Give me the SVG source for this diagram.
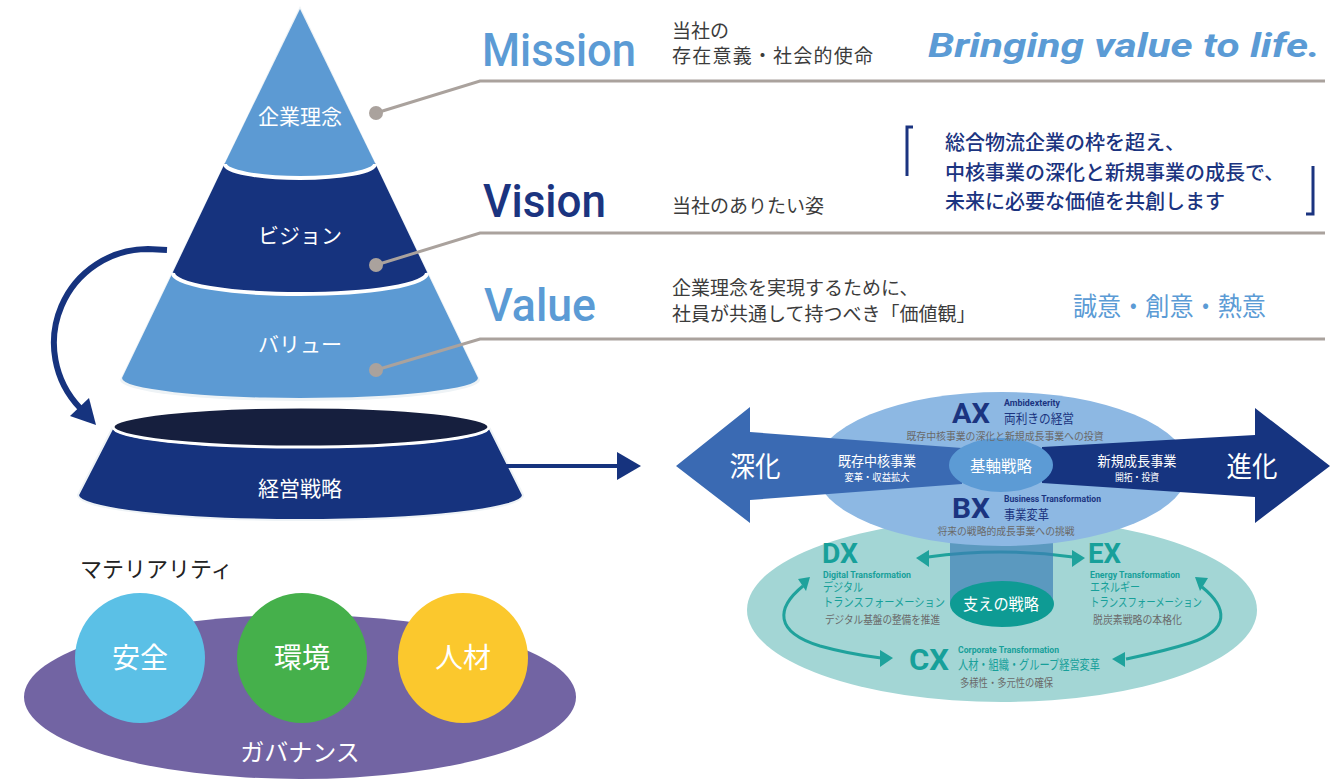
<svg xmlns="http://www.w3.org/2000/svg" width="1337" height="779" viewBox="0 0 1337 779">
<defs>
<style>
.jp{font-family:"Noto Sans CJK JP","Noto Sans",sans-serif;}
.en{font-family:Roboto,"Liberation Sans",sans-serif;}
.w{fill:#ffffff;}
.lbl{font-size:21px;fill:#ffffff;text-anchor:middle;}
.desc{font-size:19px;fill:#3c3c3c;}
.gray{fill:#6a6a6a;}
.navy{fill:#1b3480;}
.teal{fill:#17a09a;}
.lb{fill:#5b9bd5;}
.big{font-weight:700;}
.guide{fill:none;stroke:#aaa29d;stroke-width:3;}
.dot{fill:#aaa29d;}
.tl{fill:none;stroke:#1fa29c;stroke-width:3;}
.th{fill:#1fa29c;}
</style>
</defs>
<rect width="1337" height="779" fill="#ffffff"/>

<!-- pyramid -->
<g id="pyramid">
<path d="M300,6 L480,380 A180,21 0 0 1 120,380 Z" fill="#eef3f6"/>
<path d="M300,9 L375,163 A75,14 0 0 1 225,163 Z" fill="#5c9ad3"/>
<path d="M225,163 A75,14 0 0 0 375,163 L427,272 A127,21 0 0 1 173,272 Z" fill="#16337e"/>
<path d="M173,272 A127,21 0 0 0 427,272 L478,378 A178,20 0 0 1 122,378 Z" fill="#5c9ad3"/>
<path d="M225,164 A75,14 0 0 0 375,164" fill="none" stroke="#ffffff" stroke-width="4"/>
<path d="M173,273 A127,21 0 0 0 427,273" fill="none" stroke="#ffffff" stroke-width="4"/>
</g>
<g id="n-mission-level"><text class="jp lbl" x="300" y="124">企業理念</text></g>
<g id="n-vision-level"><text class="jp lbl" x="300" y="243">ビジョン</text></g>
<g id="n-value-level"><text class="jp lbl" x="300" y="352">バリュー</text></g>

<!-- management strategy frustum -->
<g id="n-strategy">
<path d="M113,427 A188,20 0 0 0 489,427 L523,495 A222,25 0 0 1 78,495 Z" fill="#16337e" stroke="#eef3f6" stroke-width="2"/>
<ellipse cx="301" cy="427" rx="188" ry="20" fill="#161f3e" stroke="#ffffff" stroke-width="3"/>
<text class="jp lbl" x="300" y="496">経営戦略</text>
</g>

<!-- connectors -->
<g id="connectors">
<circle class="dot" cx="376" cy="113" r="7"/>
<circle class="dot" cx="376" cy="265" r="7"/>
<circle class="dot" cx="376" cy="370" r="7"/>
<polyline class="guide" points="376,113 480,81 1325,81"/>
<polyline class="guide" points="376,265 480,233 1325,233"/>
<polyline class="guide" points="376,370 480,339 1325,339"/>
<path d="M167,250 L148,249 A94,94 0 0 0 80,408" fill="none" stroke="#16337e" stroke-width="6"/>
<polygon points="96,425 70,416 89,398" fill="#16337e"/>
<line x1="500" y1="466" x2="622" y2="466" stroke="#16337e" stroke-width="4"/>
<polygon points="617,452 641,466 617,480" fill="#16337e"/>
</g>

<!-- MVV headings -->
<g id="n-mission">
<text class="en lb" x="482" y="66" font-size="46" font-weight="500" textLength="154" lengthAdjust="spacingAndGlyphs">Mission</text>
<text class="jp desc" x="672" y="38">当社の</text>
<text class="jp desc" x="672" y="63" textLength="201" lengthAdjust="spacing">存在意義・社会的使命</text>
<text class="en lb" x="928" y="57" font-size="33" font-weight="700" font-style="italic" textLength="392" lengthAdjust="spacingAndGlyphs">Bringing value to life.</text>
</g>
<g id="n-vision">
<text class="en navy" x="483" y="217" font-size="46" font-weight="500" textLength="123" lengthAdjust="spacingAndGlyphs">Vision</text>
<text class="jp desc" x="672" y="213">当社のありたい姿</text>
<polyline points="913,127 907,127 907,176" fill="none" stroke="#1b3480" stroke-width="3"/>
<polyline points="1306,214 1313,214 1313,166" fill="none" stroke="#1b3480" stroke-width="3"/>
<text class="jp navy" x="945" y="150" font-size="20" font-weight="500">総合物流企業の枠を超え、</text>
<text class="jp navy" x="945" y="180" font-size="20" font-weight="500">中核事業の深化と新規事業の成長で、</text>
<text class="jp navy" x="945" y="209" font-size="20" font-weight="500">未来に必要な価値を共創します</text>
</g>
<g id="n-value">
<text class="en lb" x="484" y="321" font-size="46" font-weight="500" textLength="112" lengthAdjust="spacingAndGlyphs">Value</text>
<text class="jp desc" x="672" y="295">企業理念を実現するために、</text>
<text class="jp desc" x="672" y="321">社員が共通して持つべき「価値観」</text>
<text class="jp lb" x="1073" y="316" font-size="26" textLength="193" lengthAdjust="spacingAndGlyphs">誠意・創意・熱意</text>
</g>

<!-- materiality -->
<g id="n-materiality">
<text class="jp" x="80" y="577" font-size="22" fill="#222222">マテリアリティ</text>
</g>
<g id="n-governance">
<ellipse cx="300" cy="697" rx="276" ry="82" fill="#7264a3"/>
<text class="jp w" x="300" y="761" font-size="24" text-anchor="middle">ガバナンス</text>
</g>
<g id="n-safety">
<circle cx="140" cy="658" r="65" fill="#5bc0e6"/>
<text class="jp w" x="140" y="668" font-size="28" text-anchor="middle">安全</text>
</g>
<g id="n-environment">
<circle cx="302" cy="658" r="65" fill="#45b04b"/>
<text class="jp w" x="302" y="668" font-size="28" text-anchor="middle">環境</text>
</g>
<g id="n-people">
<circle cx="463" cy="658" r="65" fill="#fbc82d"/>
<text class="jp w" x="463" y="668" font-size="28" text-anchor="middle">人材</text>
</g>

<!-- right: supporting strategy -->
<g id="n-support">
<ellipse cx="1002" cy="610" rx="255" ry="92" fill="#a3d6d5"/>
<path class="tl" d="M928,557 Q1000,547 1073,557"/>
<polygon class="th" points="916,558 929,550 929,567"/>
<polygon class="th" points="1085,558 1072,550 1072,567"/>
<path class="tl" d="M803,586 C776,608 774,632 820,646 C845,653 865,656 881,658"/>
<polygon class="th" points="810,577 798,579 806,591"/>
<polygon class="th" points="893,658 880,650 880,667"/>
<path class="tl" d="M1202,587 C1228,608 1230,630 1190,643 C1165,651 1145,655 1126,659"/>
<polygon class="th" points="1195,577 1208,578 1200,591"/>
<polygon class="th" points="1112,659 1125,652 1125,667"/>
<rect x="950" y="515" width="103" height="89" fill="#3c7fb5" fill-opacity="0.7"/>
<ellipse cx="1002" cy="604" rx="52" ry="23" fill="#0e9b94"/>
<text class="jp w" x="1001" y="610" font-size="16" text-anchor="middle" textLength="76" lengthAdjust="spacingAndGlyphs">支えの戦略</text>
</g>
<g id="n-dx">
<text class="en teal big" x="822" y="563" font-size="28" textLength="36" lengthAdjust="spacingAndGlyphs">DX</text>
<text class="en teal big" x="823" y="578" font-size="9" textLength="88" lengthAdjust="spacingAndGlyphs">Digital Transformation</text>
<text class="jp teal" x="823" y="592" font-size="12" textLength="40" lengthAdjust="spacingAndGlyphs">デジタル</text>
<text class="jp teal" x="823" y="607" font-size="12" textLength="122" lengthAdjust="spacingAndGlyphs">トランスフォーメーション</text>
<text class="jp gray" x="825" y="624" font-size="11" textLength="115" lengthAdjust="spacingAndGlyphs">デジタル基盤の整備を推進</text>
</g>
<g id="n-ex">
<text class="en teal big" x="1088" y="563" font-size="28" textLength="33" lengthAdjust="spacingAndGlyphs">EX</text>
<text class="en teal big" x="1090" y="578" font-size="9" textLength="90" lengthAdjust="spacingAndGlyphs">Energy Transformation</text>
<text class="jp teal" x="1090" y="592" font-size="12" textLength="50" lengthAdjust="spacingAndGlyphs">エネルギー</text>
<text class="jp teal" x="1090" y="607" font-size="12" textLength="112" lengthAdjust="spacingAndGlyphs">トランスフォーメーション</text>
<text class="jp gray" x="1093" y="624" font-size="11" textLength="89" lengthAdjust="spacingAndGlyphs">脱炭素戦略の本格化</text>
</g>
<g id="n-cx">
<text class="en teal big" x="909" y="670" font-size="30" textLength="40" lengthAdjust="spacingAndGlyphs">CX</text>
<text class="en teal big" x="958" y="653" font-size="9.5" textLength="101" lengthAdjust="spacingAndGlyphs">Corporate Transformation</text>
<text class="jp teal" x="958" y="669" font-size="13" textLength="142" lengthAdjust="spacingAndGlyphs">人材・組織・グループ経営変革</text>
<text class="jp gray" x="960" y="687" font-size="11" textLength="93" lengthAdjust="spacingAndGlyphs">多様性・多元性の確保</text>
</g>

<!-- right: core strategy -->
<g id="n-core">
<ellipse cx="1002" cy="469" rx="187" ry="77" fill="#8db8e3"/>
<polygon points="676,466 750,407 750,432 962,448 962,484 750,500 750,523" fill="#3a6ab3"/>
<polygon points="1330,466 1255,408 1255,435 1042,447 1042,483 1255,497 1255,523" fill="#163480"/>
<ellipse cx="1001" cy="465" rx="52" ry="27" fill="#5c9bd5"/>
<text class="jp w" x="1001" y="472" font-size="16" text-anchor="middle" textLength="62" lengthAdjust="spacingAndGlyphs">基軸戦略</text>
<text class="jp w" x="755" y="477" font-size="28" text-anchor="middle" textLength="51" lengthAdjust="spacingAndGlyphs">深化</text>
<text class="jp w" x="1252" y="477" font-size="28" text-anchor="middle" textLength="51" lengthAdjust="spacingAndGlyphs">進化</text>
<text class="jp w" x="877" y="466" font-size="14" text-anchor="middle" textLength="78" lengthAdjust="spacingAndGlyphs">既存中核事業</text>
<text class="jp w" x="877" y="481" font-size="10" text-anchor="middle" textLength="65" lengthAdjust="spacingAndGlyphs">変革・収益拡大</text>
<text class="jp w" x="1137" y="466" font-size="14" text-anchor="middle" textLength="79" lengthAdjust="spacingAndGlyphs">新規成長事業</text>
<text class="jp w" x="1137" y="481" font-size="10" text-anchor="middle" textLength="44" lengthAdjust="spacingAndGlyphs">開拓・投資</text>
</g>
<g id="n-ax">
<text class="en navy big" x="952" y="423" font-size="28" textLength="38" lengthAdjust="spacingAndGlyphs">AX</text>
<text class="en navy big" x="1004" y="406" font-size="9" textLength="56" lengthAdjust="spacingAndGlyphs">Ambidexterity</text>
<text class="jp navy" x="1004" y="423" font-size="13" textLength="70" lengthAdjust="spacingAndGlyphs">両利きの経営</text>
<text class="jp gray" x="1005" y="440" font-size="10.5" text-anchor="middle" textLength="197" lengthAdjust="spacingAndGlyphs">既存中核事業の深化と新規成長事業への投資</text>
</g>
<g id="n-bx">
<text class="en navy big" x="952" y="518" font-size="28" textLength="38" lengthAdjust="spacingAndGlyphs">BX</text>
<text class="en navy big" x="1004" y="502" font-size="9" textLength="97" lengthAdjust="spacingAndGlyphs">Business Transformation</text>
<text class="jp navy" x="1004" y="519" font-size="13" textLength="45" lengthAdjust="spacingAndGlyphs">事業変革</text>
<text class="jp gray" x="1006" y="535" font-size="10.5" text-anchor="middle" textLength="137" lengthAdjust="spacingAndGlyphs">将来の戦略的成長事業への挑戦</text>
</g>
</svg>
